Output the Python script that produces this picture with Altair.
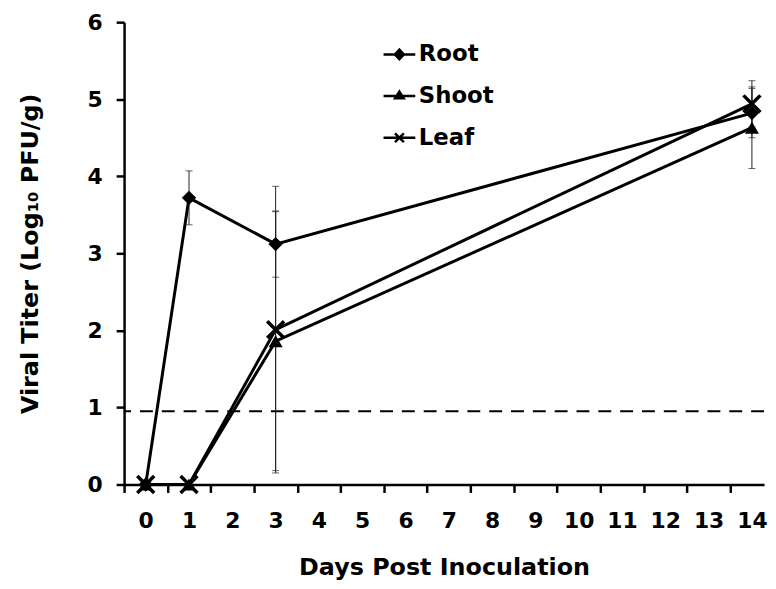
import altair as alt
import pandas as pd

# ---- data ----
days = [0, 1, 3, 14]
series = ["Root", "Shoot", "Leaf"]
root = [0.0, 3.72, 3.12, 4.82]
shoot = [0.0, 0.0, 1.86, 4.63]
leaf = [0.0, 0.0, 2.01, 4.94]
root_err = [None, 0.35, 0.43, 0.32]
shoot_err = [None, None, 1.68, 0.53]
leaf_err = [None, None, 1.86, 0.30]
detection_limit = [0.95]
x_tick_values = [-0.5 + i for i in range(15)]
y_tick_values = [0, 1, 2, 3, 4, 5, 6]

rows = []
for name, vals, errs in [("Root", root, root_err), ("Shoot", shoot, shoot_err), ("Leaf", leaf, leaf_err)]:
    for d, v, e in zip(days, vals, errs):
        rows.append({"series": name, "day": d, "value": v,
                     "lo": (v - e) if e is not None else None,
                     "hi": (v + e) if e is not None else None})
df = pd.DataFrame(rows)
err_df = df.dropna(subset=["lo"])
caps = pd.concat([err_df[["series", "day"]].assign(cap=err_df["lo"]),
                  err_df[["series", "day"]].assign(cap=err_df["hi"])])
lim_df = pd.DataFrame({"limit": detection_limit})

FONT = "DejaVu Sans"

axis_common = dict(domainColor="black", domainWidth=2.5, tickColor="black", tickWidth=2.5,
                   tickSize=8, labelFont=FONT, labelFontSize=22, labelFontWeight="bold",
                   labelColor="black", titleFont=FONT, titleFontSize=24, titleFontWeight="bold",
                   titleColor="black", grid=False)

x_scale = alt.Scale(domain=[-0.5, 14.28], nice=False, zero=False)
y_scale = alt.Scale(domain=[0, 6], nice=False)


def X(field):
    return alt.X(f"{field}:Q", scale=x_scale, title="Days Post Inoculation",
                 axis=alt.Axis(values=x_tick_values, labelExpr="format(datum.value + 0.5, 'd')",
                               labelOffset=21.8, labelFlush=False, labelOverlap=False,
                               labelPadding=18, titlePadding=25, **axis_common))


def Y(field):
    return alt.Y(f"{field}:Q", scale=y_scale, title="Viral Titer (Log₁₀ PFU/g)",
                 axis=alt.Axis(values=y_tick_values, labelPadding=14, titlePadding=45,
                               labelFlush=False, **axis_common))


lines = alt.Chart(df).mark_line(color="black", strokeWidth=3, clip=False).encode(
    x=X("day"), y=Y("value"), detail="series:N", order="day:Q")

err_rules = alt.Chart(err_df).mark_rule(color="#222", strokeWidth=1).encode(
    x=X("day"), y=Y("lo"), y2="hi:Q")

err_caps = alt.Chart(caps).mark_tick(color="#222", orient="horizontal", size=7, thickness=1).encode(
    x=X("day"), y=Y("cap"))

limit = alt.Chart(lim_df).mark_rule(color="black", strokeWidth=2, strokeDash=[13, 9]).encode(
    y=Y("limit"))

root_pts = alt.Chart(df).transform_filter("datum.series == 'Root'").mark_point(
    shape="diamond", filled=True, color="black", size=210, opacity=1, clip=False).encode(
    x=X("day"), y=Y("value"))

shoot_pts = alt.Chart(df).transform_filter("datum.series == 'Shoot'").mark_point(
    shape="triangle-up", filled=True, color="black", size=200, opacity=1, clip=False).encode(
    x=X("day"), y=Y("value"))

leaf_pts = alt.Chart(df).transform_filter("datum.series == 'Leaf'").mark_point(
    shape="M-1,-1L1,1M-1,1L1,-1", filled=False, color="black", strokeWidth=3.5, size=290,
    opacity=1, clip=False).encode(
    x=X("day"), y=Y("value"))

# legend glyphs: a short line with the marker; inner strokes make the markers look solid
legend_paths = [
    "M-1,0L1,0M0,-0.3L0.28,0L0,0.3L-0.28,0ZM0,-0.15L0.14,0L0,0.15L-0.14,0ZM0,-0.3L0,0.3",
    "M-1,0L1,0M0,-0.28L0.27,0.14L-0.27,0.14ZM0,-0.12L0.12,0.07L-0.12,0.07ZM0,-0.28L0,0.14",
    "M-1,0L1,0M-0.28,-0.28L0.28,0.28M-0.28,0.28L0.28,-0.28",
]

legend_layer = alt.Chart(df).transform_filter("false").mark_point(
    filled=False, color="black", strokeWidth=2.5, opacity=1).encode(
    x=X("day"), y=Y("value"),
    shape=alt.Shape("series:N", scale=alt.Scale(domain=series, range=legend_paths),
                    legend=alt.Legend(title=None, orient="none", legendX=260, legendY=15,
                                      symbolSize=1024, symbolStrokeWidth=2.5,
                                      symbolStrokeColor="black", symbolOpacity=1,
                                      labelFont=FONT, labelFontSize=23, labelFontWeight="bold",
                                      labelColor="black", labelOffset=2, rowPadding=12,
                                      padding=0)))

chart = alt.layer(limit, lines, err_rules, err_caps, root_pts, shoot_pts, leaf_pts, legend_layer).properties(
    width=645, height=466,
    autosize=alt.AutoSizeParams(type="none"),
    padding={"left": 117, "top": 12, "right": 4, "bottom": 95},
    background="white",
).configure_view(stroke=None)

chart.save("out.html", embed_options={"renderer": "svg", "actions": False})
